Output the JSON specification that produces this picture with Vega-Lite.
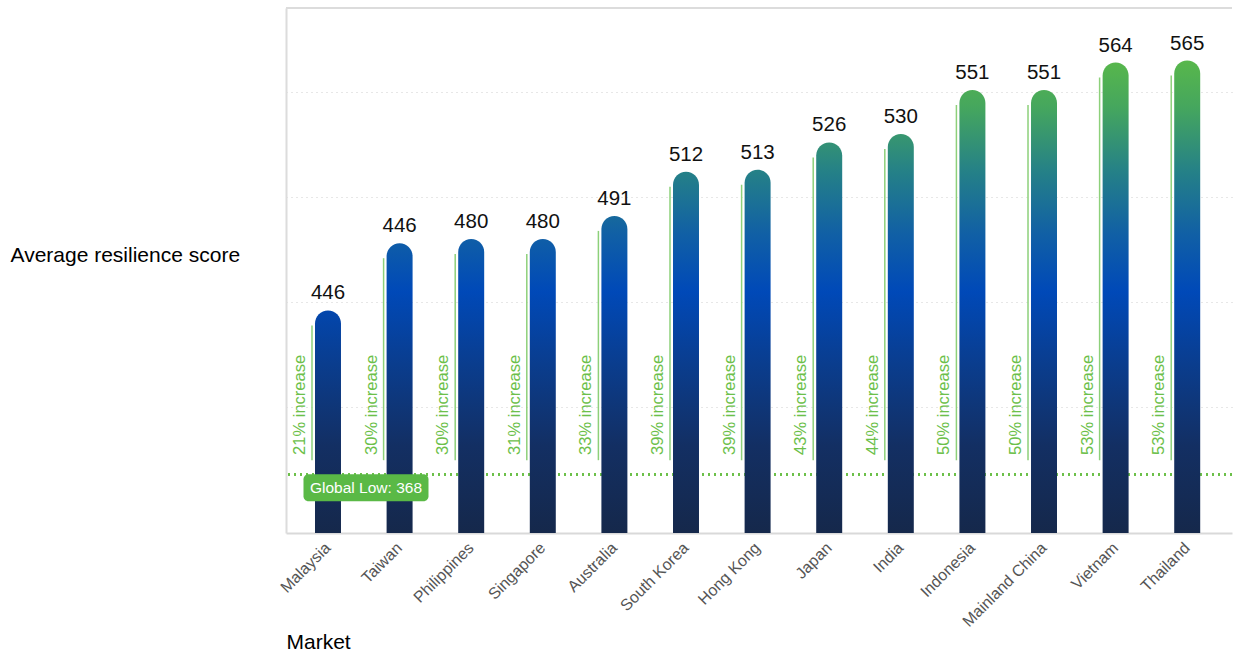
{
  "$schema": "https://vega.github.io/schema/vega-lite/v6.json",
  "width": 946,
  "height": 525,
  "autosize": {"type": "none"},
  "padding": {"left": 286, "top": 8, "right": 1, "bottom": 120},
  "background": "white",
  "config": {
    "font": "Liberation Sans",
    "view": {"stroke": null},
    "axisX": {
      "labelAngle": -45, "labelAlign": "right", "labelBaseline": "middle", "labelPadding": 12,
      "labelFontSize": 16, "labelColor": "#555555", "ticks": false,
      "domainColor": "#d9d9d9", "domainWidth": 2, "grid": false,
      "titleAnchor": "start", "titleAlign": "left", "titleX": 0, "titleY": 109,
      "titleBaseline": "middle", "titleFontSize": 21, "titleFontWeight": "normal", "titleColor": "#000000"
    },
    "axisY": {
      "labels": false, "ticks": false,
      "domainColor": "#dcdcdc", "domainWidth": 2,
      "grid": true, "gridColor": "#cfcfcf", "gridDash": [1, 4], "gridWidth": 1,
      "titleAngle": 0, "titleAlign": "left", "titleBaseline": "middle",
      "titleX": -276, "titleY": 247, "titleFontSize": 21, "titleFontWeight": "normal", "titleColor": "#000000",
      "zindex": 1
    }
  },
  "data": {
    "values": [
      {"market": "Malaysia", "value": 446, "label": "446", "pct": "21% increase"},
      {"market": "Taiwan", "value": 478, "label": "446", "pct": "30% increase"},
      {"market": "Philippines", "value": 480, "label": "480", "pct": "30% increase"},
      {"market": "Singapore", "value": 480, "label": "480", "pct": "31% increase"},
      {"market": "Australia", "value": 491, "label": "491", "pct": "33% increase"},
      {"market": "South Korea", "value": 512, "label": "512", "pct": "39% increase"},
      {"market": "Hong Kong", "value": 513, "label": "513", "pct": "39% increase"},
      {"market": "Japan", "value": 526, "label": "526", "pct": "43% increase"},
      {"market": "India", "value": 530, "label": "530", "pct": "44% increase"},
      {"market": "Indonesia", "value": 551, "label": "551", "pct": "50% increase"},
      {"market": "Mainland China", "value": 551, "label": "551", "pct": "50% increase"},
      {"market": "Vietnam", "value": 564, "label": "564", "pct": "53% increase"},
      {"market": "Thailand", "value": 565, "label": "565", "pct": "53% increase"}
    ]
  },
  "layer": [
    {
      "mark": {"type": "rule", "color": "#dcdcdc", "strokeWidth": 2},
      "encoding": {"y": {"datum": 590, "type": "quantitative", "title": "Average resilience score", "axis": {"orient": "left", "values": [400, 450, 500, 550]}, "scale": {"domain": [340, 590], "nice": false, "zero": false}}}
    },
    {
      "mark": {"type": "rule", "color": "#6cc04a", "strokeWidth": 2, "strokeDash": [2, 4]},
      "encoding": {"y": {"datum": 368, "type": "quantitative", "title": "Average resilience score", "axis": {"orient": "left", "values": [400, 450, 500, 550]}, "scale": {"domain": [340, 590], "nice": false, "zero": false}}}
    },
    {
      "mark": {
        "type": "bar",
        "cornerRadiusTopLeft": 13,
        "cornerRadiusTopRight": 13,
        "fill": {"expr": "{gradient: 'linear', x1: 0, y1: (datum.value - 570) / (datum.value - 340), x2: 0, y2: 1, stops: [{offset: 0, color: '#5cbb47'}, {offset: 0.12, color: '#45a65e'}, {offset: 0.25, color: '#258187'}, {offset: 0.38, color: '#1160a5'}, {offset: 0.5, color: '#0049b8'}, {offset: 0.65, color: '#0a3d8e'}, {offset: 0.82, color: '#132f63'}, {offset: 1, color: '#15284b'}]}"}
      },
      "encoding": {
        "x": {"field": "market", "type": "nominal", "sort": null, "title": "Market", "scale": {"paddingInner": 0.637, "paddingOuter": 0.4245, "align": 0.477}},
        "y": {"field": "value", "type": "quantitative", "title": "Average resilience score", "axis": {"orient": "left", "values": [400, 450, 500, 550]}, "scale": {"domain": [340, 590], "nice": false, "zero": false}},
        "y2": {"datum": 340}
      }
    },
    {
      "mark": {"type": "rule", "color": "#8dd07a", "strokeWidth": 1.5, "xOffset": -16, "yOffset": 15, "y2Offset": -14},
      "encoding": {
        "x": {"field": "market", "type": "nominal", "sort": null, "title": "Market"},
        "y": {"field": "value", "type": "quantitative", "title": "Average resilience score", "axis": {"orient": "left", "values": [400, 450, 500, 550]}, "scale": {"domain": [340, 590], "nice": false, "zero": false}},
        "y2": {"datum": 368}
      }
    },
    {
      "mark": {"type": "text", "angle": 270, "align": "center", "baseline": "alphabetic", "fontSize": 16.5, "color": "#6cc04a", "xOffset": -23},
      "encoding": {
        "x": {"field": "market", "type": "nominal", "sort": null, "title": "Market"},
        "y": {"datum": 401, "type": "quantitative", "title": "Average resilience score", "axis": {"orient": "left", "values": [400, 450, 500, 550]}, "scale": {"domain": [340, 590], "nice": false, "zero": false}},
        "text": {"field": "pct"}
      }
    },
    {
      "mark": {"type": "text", "baseline": "alphabetic", "align": "center", "dy": -11, "fontSize": 20.5, "color": "#111111"},
      "encoding": {
        "x": {"field": "market", "type": "nominal", "sort": null, "title": "Market"},
        "y": {"field": "value", "type": "quantitative", "title": "Average resilience score", "axis": {"orient": "left", "values": [400, 450, 500, 550]}, "scale": {"domain": [340, 590], "nice": false, "zero": false}},
        "text": {"field": "label"}
      }
    },
    {
      "data": {"values": [{"market": "Malaysia", "value": 368, "label": "Global Low: 368"}]},
      "mark": {"type": "rect", "width": 125, "height": 27, "cornerRadius": 5, "color": "#5ab946", "xOffset": 38, "yOffset": 13.5},
      "encoding": {
        "x": {"field": "market", "type": "nominal", "sort": null, "title": "Market"},
        "y": {"field": "value", "type": "quantitative", "title": "Average resilience score", "axis": {"orient": "left", "values": [400, 450, 500, 550]}, "scale": {"domain": [340, 590], "nice": false, "zero": false}}
      }
    },
    {
      "data": {"values": [{"market": "Malaysia", "value": 368, "label": "Global Low: 368"}]},
      "mark": {"type": "text", "align": "center", "baseline": "middle", "fontSize": 15.5, "color": "#ffffff", "xOffset": 38, "yOffset": 14},
      "encoding": {
        "x": {"field": "market", "type": "nominal", "sort": null, "title": "Market"},
        "y": {"field": "value", "type": "quantitative", "title": "Average resilience score", "axis": {"orient": "left", "values": [400, 450, 500, 550]}, "scale": {"domain": [340, 590], "nice": false, "zero": false}},
        "text": {"field": "label"}
      }
    }
  ]
}
